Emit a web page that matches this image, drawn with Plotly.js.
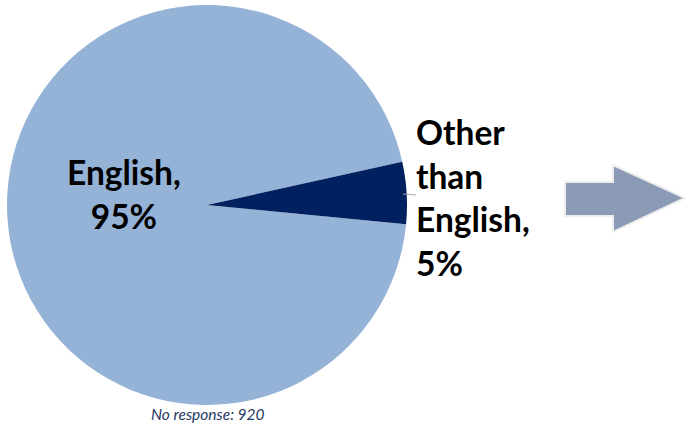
<!DOCTYPE html>
<html>
<head>
<meta charset="utf-8">
<script src="https://cdn.plot.ly/plotly-3.0.1.min.js"></script>
<style>html,body{margin:0;padding:0;background:#fff;}#chart{width:685px;height:427px;}</style>
</head>
<body>
<div id="chart"></div>
<script>
var categories = ['English', 'Other than English'];
var values = [95, 5];
var sliceColors = ['#95B3D7', '#002060'];
var noResponseLabel = 'No response: 920';

var W = 685, H = 427;
function px(x) { return x / W; }
function py(y) { return 1 - y / H; }

function labelText(i) {
  return categories[i].split(' ').join('<br>') + ',<br>' + values[i] + '%';
}

var trace = {
  type: 'pie',
  labels: categories,
  values: values,
  sort: false,
  direction: 'clockwise',
  rotation: 95.5,
  textinfo: 'none',
  hoverinfo: 'none',
  marker: { colors: sliceColors, line: { width: 0 } },
  domain: { x: [px(7), px(407)], y: [py(405), py(5)] },
  showlegend: false
};

var labelFont = { family: 'Lato, "Open Sans", sans-serif', size: 33.5, color: '#000000', weight: 700 };

var annotations = [
  {
    xref: 'paper', yref: 'paper', x: px(124), y: py(194),
    xanchor: 'center', yanchor: 'middle', align: 'center',
    text: '<b>' + labelText(0) + '</b>', showarrow: false, font: labelFont
  },
  {
    xref: 'paper', yref: 'paper', x: px(414), y: py(197),
    xanchor: 'left', yanchor: 'middle', align: 'left',
    text: '<b>' + labelText(1) + '</b>', showarrow: false, font: labelFont
  },
  {
    xref: 'paper', yref: 'paper', x: px(208), y: py(414),
    xanchor: 'center', yanchor: 'middle',
    text: '<i>' + noResponseLabel + '</i>', showarrow: false,
    font: { family: 'Lato, "Open Sans", sans-serif', size: 15.5, color: '#1F3864' }
  }
];

var arrowPts = [[565,182],[613,182],[613,165],[685,198],[613,232],[613,216],[565,216]];
var arrowPath = 'M ' + arrowPts.map(function(p){ return px(p[0]) + ',' + py(p[1]); }).join(' L ') + ' Z';

var shapes = [
  {
    type: 'path', xref: 'paper', yref: 'paper', path: arrowPath,
    fillcolor: '#8C9BB5', line: { color: '#EEEEEE', width: 2 }
  },
  {
    type: 'line', xref: 'paper', yref: 'paper',
    x0: px(403), y0: py(194), x1: px(416), y1: py(195),
    line: { color: '#A6A6A6', width: 1 }
  }
];

var layout = {
  width: W, height: H,
  margin: { l: 0, r: 0, t: 0, b: 0 },
  paper_bgcolor: '#ffffff',
  plot_bgcolor: '#ffffff',
  annotations: annotations,
  shapes: shapes,
  showlegend: false
};

Plotly.newPlot('chart', [trace], layout, { staticPlot: true, displayModeBar: false });
</script>
</body>
</html>
